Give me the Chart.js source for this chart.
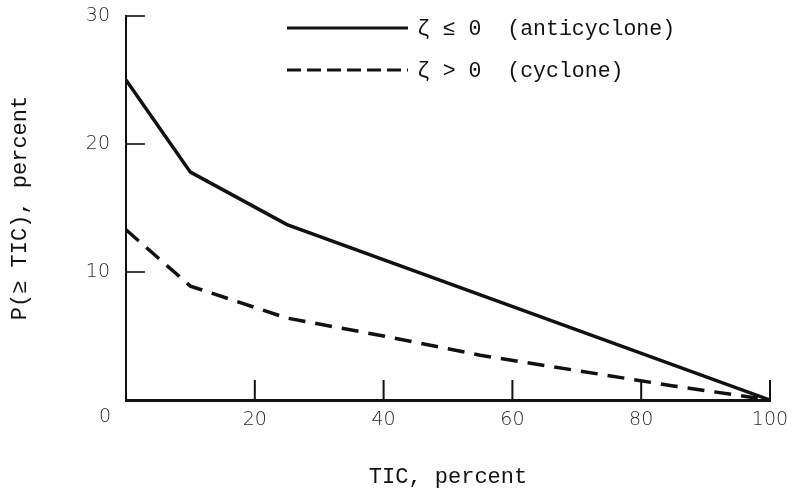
<!DOCTYPE html>
<html>
<head>
<meta charset="utf-8">
<script src="https://cdn.jsdelivr.net/npm/chart.js@4/dist/chart.umd.min.js"></script>
<style>
html,body{margin:0;padding:0;background:#fff;}
#wrap{width:793px;height:493px;position:relative;}
</style>
</head>
<body>
<div id="wrap"><canvas id="c" width="793" height="493"></canvas></div>
<script>
// ---- data ----
const antiTIC = [0, 10, 25, 100];
const antiP   = [25, 17.8, 13.7, 0];
const cycTIC  = [0, 10, 25, 40, 55, 70, 85, 100];
const cycP    = [13.3, 8.9, 6.4, 5.0, 3.5, 2.3, 1.1, 0];
const seriesLabels = ['\u03B6 \u2264 0  (anticyclone)', '\u03B6 > 0  (cyclone)'];
const xTitle = 'TIC, percent';
const yTitle = 'P(\u2265 TIC), percent';
const xTicks = [0, 20, 40, 60, 80, 100];
const yTicks = [0, 10, 20, 30];
const originLabel = '0';

const toPts = (xs, ys) => xs.map((x, i) => ({x: x, y: ys[i]}));
const ink = '#111';
const tickColor = '#2a2a2a';
const tickFont = { family: 'DejaVu Sans', size: 19, weight: '300' };

const customDraw = {
  id: 'customDraw',
  afterDraw(chart) {
    const ctx = chart.ctx;
    const xs = chart.scales.x, ys = chart.scales.y;
    const area = chart.chartArea;
    ctx.save();
    ctx.strokeStyle = ink;
    // inward tick marks
    ctx.lineWidth = 2;
    xTicks.forEach(v => {
      if (v === 0) return;
      const px = xs.getPixelForValue(v);
      ctx.beginPath(); ctx.moveTo(px, area.bottom); ctx.lineTo(px, area.bottom - 20); ctx.stroke();
    });
    ctx.lineWidth = 1.6;
    yTicks.forEach(v => {
      if (v === 0) return;
      const py = ys.getPixelForValue(v);
      ctx.beginPath(); ctx.moveTo(area.left, py); ctx.lineTo(area.left + 19, py); ctx.stroke();
    });
    // shared origin label
    ctx.fillStyle = tickColor;
    ctx.font = '300 19px "DejaVu Sans"';
    ctx.textAlign = 'center';
    ctx.textBaseline = 'middle';
    ctx.fillText(originLabel, xs.getPixelForValue(0) - 21, ys.getPixelForValue(0) + 17);
    // legend
    const lx0 = area.left + 161, lx1 = area.left + 282, tx = area.left + 291;
    const rows = [area.top + 12, area.top + 54];
    chart.data.datasets.forEach((ds, i) => {
      const y = rows[i];
      ctx.strokeStyle = ink;
      ctx.lineWidth = 3;
      ctx.setLineDash(i === 0 ? [] : [14, 6]);
      ctx.beginPath(); ctx.moveTo(lx0, y); ctx.lineTo(lx1, y); ctx.stroke();
      ctx.setLineDash([]);
      ctx.fillStyle = ink;
      ctx.font = '21.5px "Liberation Mono"';
      ctx.textAlign = 'left';
      ctx.textBaseline = 'middle';
      ctx.fillText(ds.label, tx, y + 1);
    });
    ctx.restore();
  }
};

new Chart(document.getElementById('c'), {
  type: 'line',
  data: {
    datasets: [
      { label: seriesLabels[0], data: toPts(antiTIC, antiP), borderColor: ink, borderWidth: 3.5,
        pointRadius: 0, tension: 0, fill: false },
      { label: seriesLabels[1], data: toPts(cycTIC, cycP), borderColor: ink, borderWidth: 3.5,
        borderDash: [17, 10], pointRadius: 0, tension: 0, fill: false }
    ]
  },
  options: {
    responsive: false,
    animation: false,
    layout: { padding: { top: 16, right: 23, left: 0, bottom: 0 } },
    plugins: { legend: { display: false }, tooltip: { enabled: false } },
    scales: {
      x: {
        type: 'linear', min: 0, max: 100,
        afterFit(s) { s.height = 93; s.paddingLeft = 0; s.paddingRight = 0; },
        afterBuildTicks(s) { s.ticks = xTicks.map(v => ({value: v})); },
        grid: { display: false },
        border: { display: true, color: ink, width: 3 },
        ticks: { padding: 1, color: tickColor, font: tickFont,
                 maxRotation: 0, callback: v => v === 0 ? '' : String(v) },
        title: { display: true, text: xTitle, color: ink, padding: { top: 0, bottom: 3 },
                 font: { family: 'Liberation Mono', size: 22 } }
      },
      y: {
        type: 'linear', min: 0, max: 30,
        afterFit(s) { s.width = 126; s.paddingTop = 0; s.paddingBottom = 0; },
        afterBuildTicks(s) { s.ticks = yTicks.map(v => ({value: v})); },
        grid: { display: false },
        border: { display: true, color: ink, width: 2 },
        ticks: { padding: 8, color: tickColor, font: tickFont,
                 callback: v => v === 0 ? '' : String(v) },
        title: { display: true, text: yTitle, color: ink, padding: { top: 7, bottom: 0 },
                 font: { family: 'Liberation Mono', size: 22 } }
      }
    }
  },
  plugins: [customDraw]
});
</script>
</body>
</html>
